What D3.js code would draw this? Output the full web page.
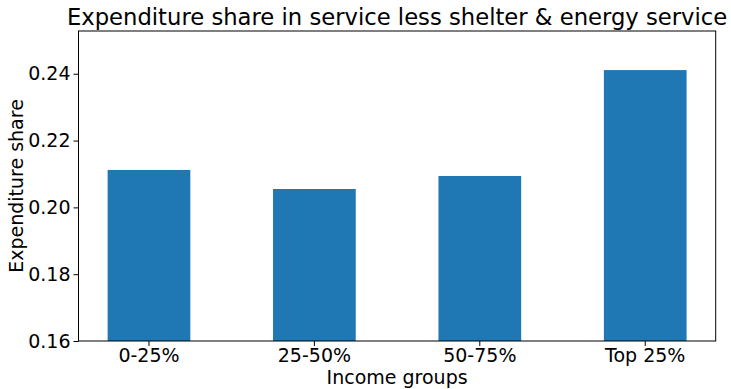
<!DOCTYPE html>
<html lang="en">
<head>
<meta charset="utf-8">
<script src="https://cdn.jsdelivr.net/npm/d3@7"></script>
<style>
  body { margin: 0; background: #fff; }
  svg text { font-family: "DejaVu Sans", sans-serif; fill: #000; }
  .axis path, .axis line { stroke: #000; stroke-width: 1; }
</style>
</head>
<body>
<div id="chart"></div>
<script>
var groups = ["0-25%", "25-50%", "50-75%", "Top 25%"];
var shares = [0.2112, 0.2055, 0.2094, 0.2411];
var yTicks = [0.16, 0.18, 0.20, 0.22, 0.24];

var W = 731, H = 389;
var margin = {top: 31, right: 15.3, bottom: 48, left: 78.5};
var width = W - margin.left - margin.right,
    height = H - margin.top - margin.bottom;

var svg = d3.select("#chart").append("svg")
  .attr("width", W).attr("height", H);

var g = svg.append("g")
  .attr("transform", "translate(" + margin.left + "," + margin.top + ")");

var x = d3.scaleBand()
  .domain(groups)
  .range([0, width])
  .paddingInner(0.5)
  .paddingOuter(0.176);

var y = d3.scaleLinear()
  .domain([0.16, 0.2528])
  .range([height, 0]);

// bars
g.selectAll("rect.bar")
  .data(groups)
  .enter().append("rect")
    .attr("class", "bar")
    .attr("x", function(d) { return x(d); })
    .attr("y", function(d, i) { return y(shares[i]); })
    .attr("width", x.bandwidth())
    .attr("height", function(d, i) { return y(0.16) - y(shares[i]); })
    .attr("fill", "#1f77b4");

// axes
var xAxis = g.append("g")
  .attr("class", "axis")
  .attr("transform", "translate(0," + height + ")")
  .call(d3.axisBottom(x).tickSize(5).tickPadding(3).tickSizeOuter(0));
xAxis.select(".domain").remove();
xAxis.selectAll("text").style("font-size", "19px");

var yAxis = g.append("g")
  .attr("class", "axis")
  .call(d3.axisLeft(y).tickValues(yTicks).tickFormat(d3.format(".2f")).tickSize(5).tickPadding(3));
yAxis.select(".domain").remove();
yAxis.selectAll("text").style("font-size", "19px");

// frame
g.append("rect")
  .attr("width", width).attr("height", height)
  .attr("fill", "none").attr("stroke", "#000").attr("stroke-width", 1);

// labels
svg.append("text")
  .attr("x", margin.left + width / 2)
  .attr("y", 25)
  .attr("text-anchor", "middle")
  .style("font-size", "22.7px")
  .text("Expenditure share in service less shelter & energy service");

svg.append("text")
  .attr("x", margin.left + width / 2)
  .attr("y", 384)
  .attr("text-anchor", "middle")
  .style("font-size", "19px")
  .text("Income groups");

svg.append("text")
  .attr("transform", "translate(23," + (margin.top + height / 2) + ") rotate(-90)")
  .attr("text-anchor", "middle")
  .style("font-size", "19px")
  .text("Expenditure share");
</script>
</body>
</html>
